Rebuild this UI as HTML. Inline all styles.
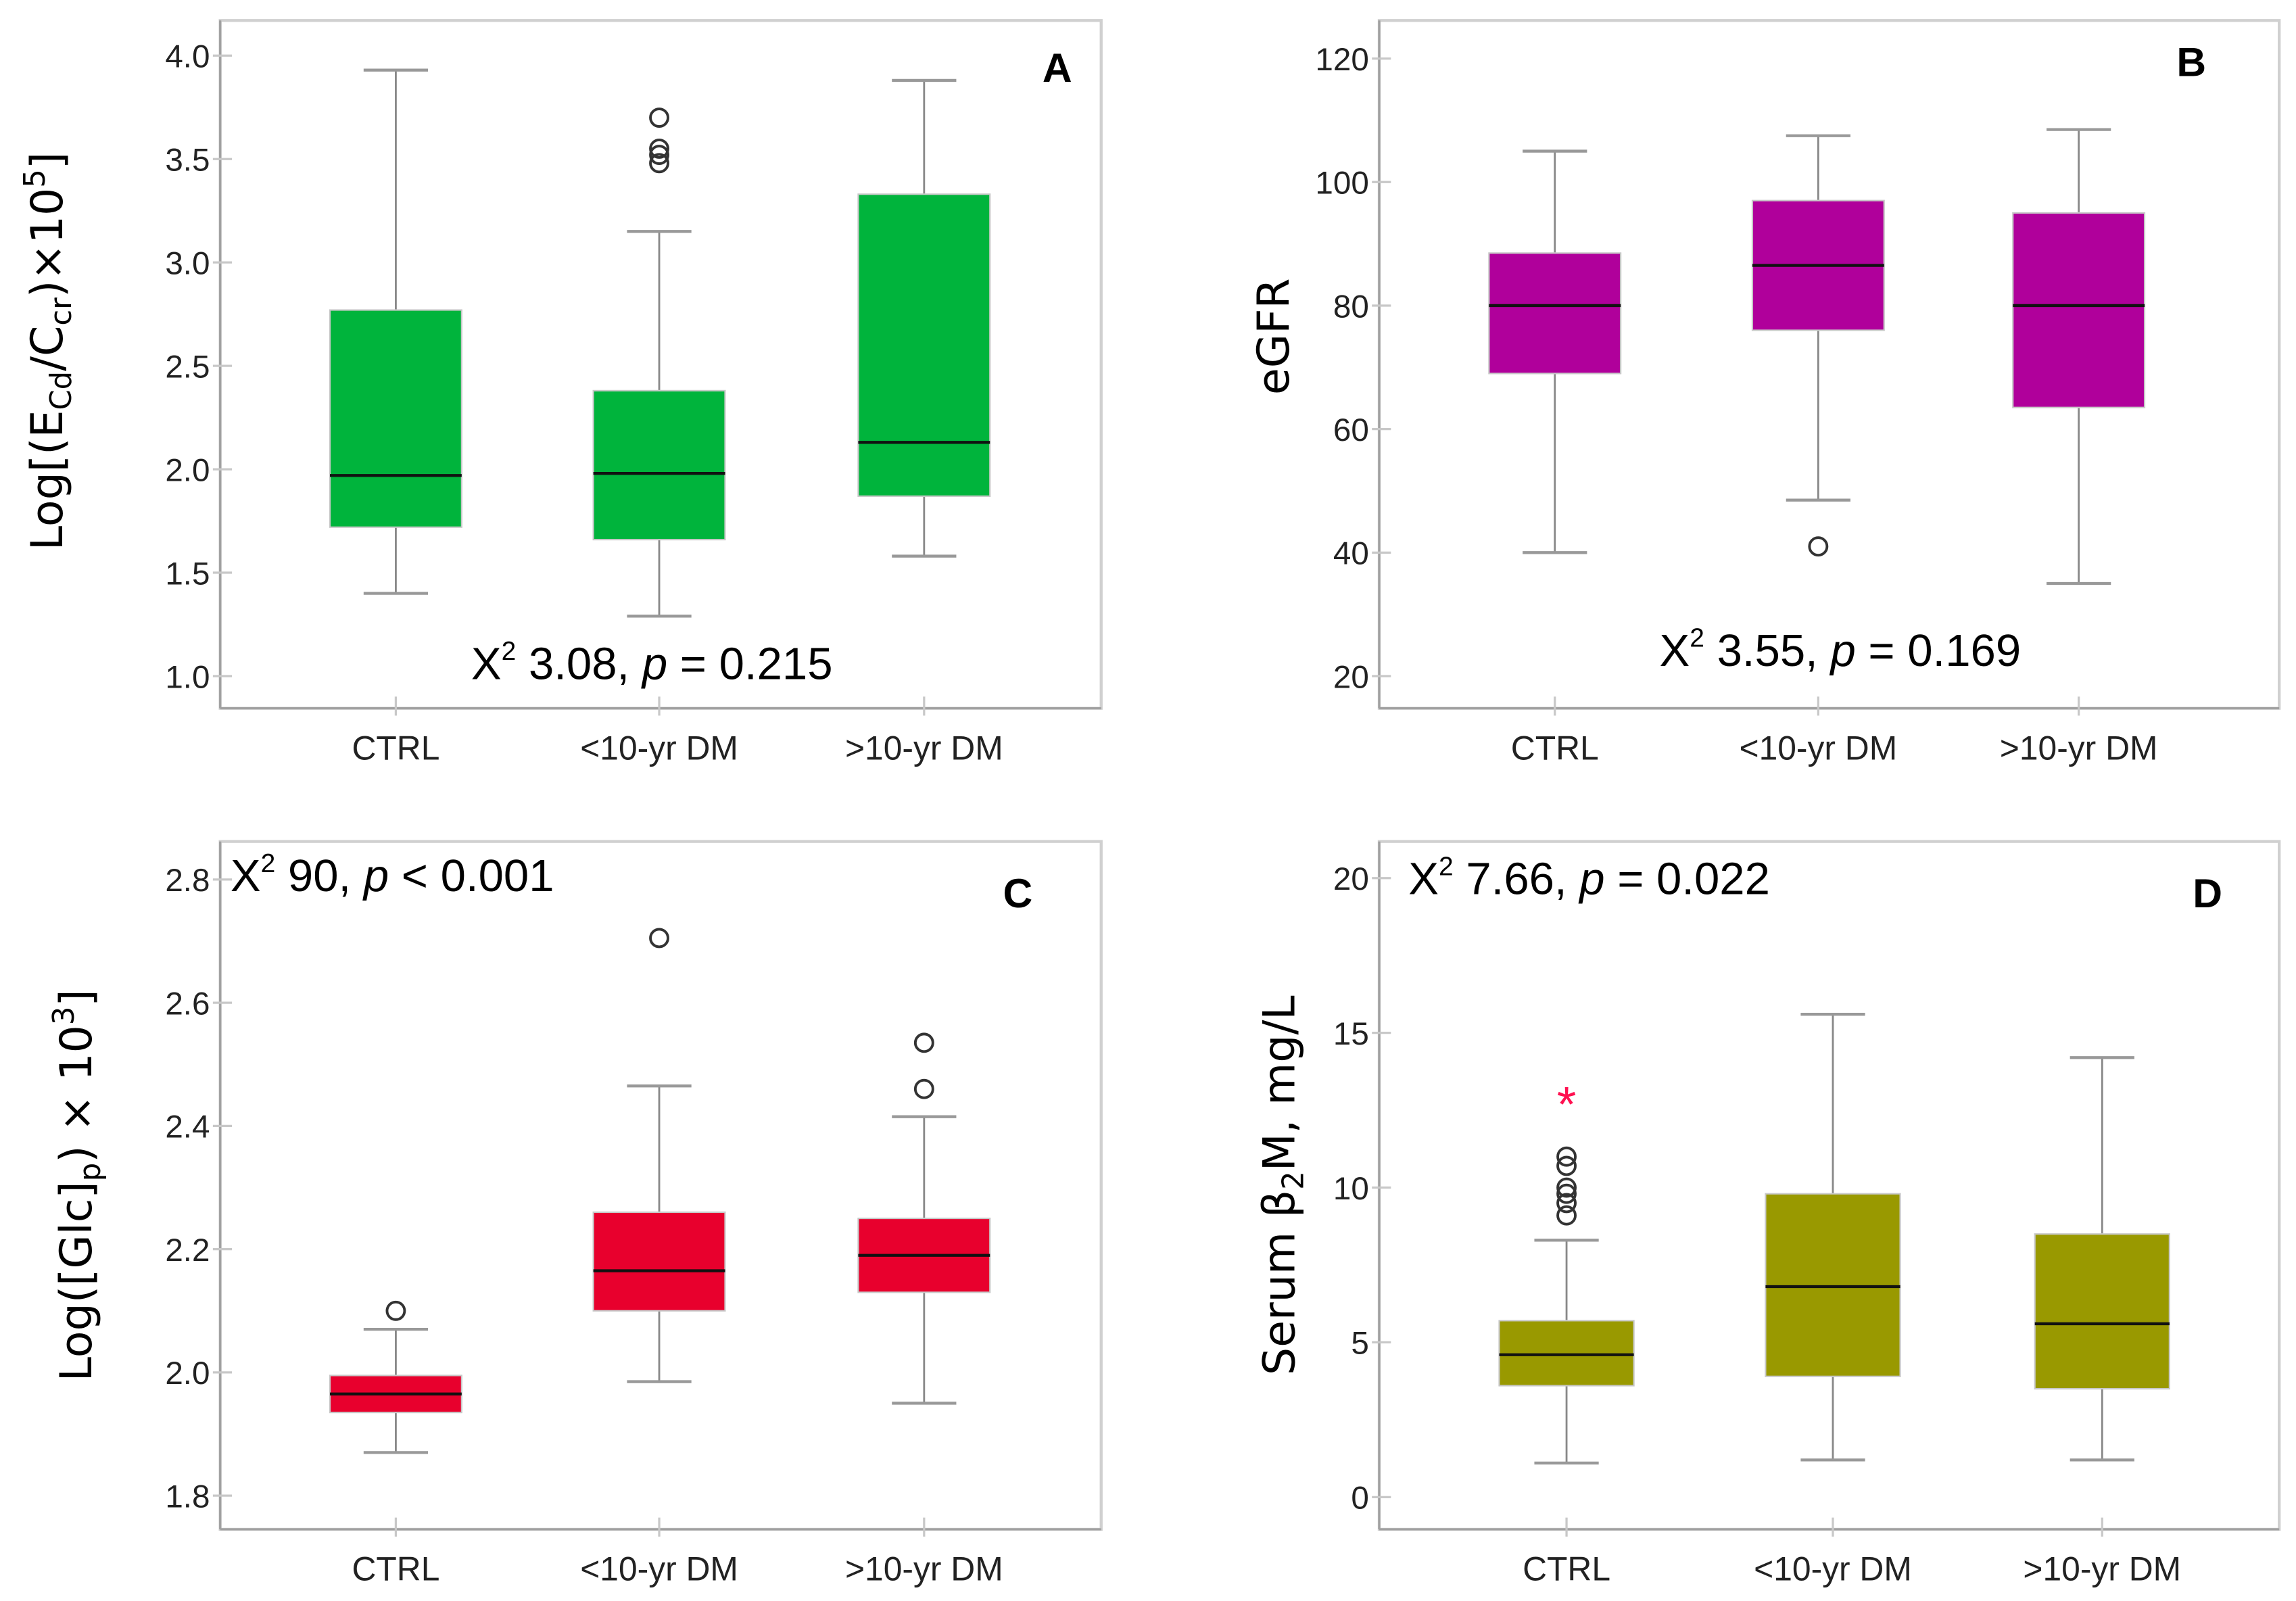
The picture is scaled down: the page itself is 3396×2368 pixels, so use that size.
<!DOCTYPE html>
<html><head><meta charset="utf-8"><style>
html,body{margin:0;padding:0;background:#fff}
svg{display:block;font-family:"Liberation Sans",sans-serif}
.nar{font-family:"Liberation Sans Narrow","Liberation Sans",sans-serif}
</style></head><body>
<svg id="fig" width="3396" height="2368" viewBox="0 0 1568 1094" xmlns="http://www.w3.org/2000/svg"></svg>
<script>
const categories = ["CTRL", "<10-yr DM", ">10-yr DM"];
// Panel A
const aLow = [1.40, 1.29, 1.58];
const aQ1 = [1.72, 1.66, 1.87];
const aMed = [1.97, 1.98, 2.13];
const aQ3 = [2.77, 2.38, 3.33];
const aHigh = [3.93, 3.15, 3.88];
const aOut = [[], [3.70, 3.55, 3.52, 3.48], []];
const aTicks = ["1.0", "1.5", "2.0", "2.5", "3.0", "3.5", "4.0"];
// Panel B
const bLow = [40, 48.5, 35];
const bQ1 = [69, 76, 63.5];
const bMed = [80, 86.5, 80];
const bQ3 = [88.5, 97, 95];
const bHigh = [105, 107.5, 108.5];
const bOut = [[], [41], []];
const bTicks = ["20", "40", "60", "80", "100", "120"];
// Panel C
const cLow = [1.87, 1.985, 1.95];
const cQ1 = [1.935, 2.10, 2.13];
const cMed = [1.965, 2.165, 2.19];
const cQ3 = [1.995, 2.26, 2.25];
const cHigh = [2.07, 2.465, 2.415];
const cOut = [[2.10], [2.705], [2.46, 2.535]];
const cTicks = ["1.8", "2.0", "2.2", "2.4", "2.6", "2.8"];
// Panel D
const dLow = [1.1, 1.2, 1.2];
const dQ1 = [3.6, 3.9, 3.5];
const dMed = [4.6, 6.8, 5.6];
const dQ3 = [5.7, 9.8, 8.5];
const dHigh = [8.3, 15.6, 14.2];
const dOut = [[9.1, 9.5, 9.8, 10.0, 10.7, 11.0], [], []];
const dExtreme = [[12.9], [], []];
const dTicks = ["0", "5", "10", "15", "20"];

const NS = "http://www.w3.org/2000/svg";
const svg = document.getElementById("fig");
function mk(tag, attrs, parent) {
  const e = document.createElementNS(NS, tag);
  for (const k in attrs) e.setAttribute(k, attrs[k]);
  (parent || svg).appendChild(e);
  return e;
}

function panel(cfg) {
  const g = mk("g", {});
  
  
  const yScale = v => cfg.yA + (v - cfg.vA) * (cfg.yB - cfg.yA) / (cfg.vB - cfg.vA);
  const xScale = i => cfg.cx[i];
  const fr = mk("rect", {x: cfg.x0, y: cfg.y0, width: cfg.x1 - cfg.x0, height: cfg.y1 - cfg.y0, fill: "none", stroke: "#d0d0d0", "stroke-width": 2}, g);
  
  
  mk("line", {x1: cfg.x0, y1: cfg.y0, x2: cfg.x0, y2: cfg.y1, stroke: "#a0a0a0", "stroke-width": 1.5}, g);
  mk("line", {x1: cfg.x0, y1: cfg.y1, x2: cfg.x1, y2: cfg.y1, stroke: "#a0a0a0", "stroke-width": 1.5}, g);
  cfg.ticks.forEach(t => {
    const y = yScale(parseFloat(t));
    mk("line", {x1: cfg.x0 - 5, y1: y, x2: cfg.x0 + 8, y2: y, stroke: "#c8c8c8", "stroke-width": 1.5}, g);
    const tx = mk("text", {x: cfg.x0 - 7, y: y + 8, "text-anchor": "end", "font-size": 22, fill: "#222", class: "nar"}, g);
    tx.textContent = t;
    
    
  });
  categories.forEach((c, i) => {
    const x = xScale(i);
    mk("line", {x1: x, y1: cfg.y1 - 8, x2: x, y2: cfg.y1 + 5, stroke: "#c8c8c8", "stroke-width": 1.5}, g);
    const tx = mk("text", {x: x, y: cfg.y1 + 35, "text-anchor": "middle", "font-size": 23, fill: "#222", class: "nar"}, g);
    tx.textContent = c;
    
    
  });
  const hw = cfg.bw / 2, cw = 22;
  categories.forEach((c, i) => {
    const x = xScale(i);
    const bg = mk("g", {}, g);
    
    
    mk("line", {x1: x, y1: yScale(cfg.low[i]), x2: x, y2: yScale(cfg.q1[i]), stroke: "#888", "stroke-width": 1.3}, bg);
    mk("line", {x1: x, y1: yScale(cfg.q3[i]), x2: x, y2: yScale(cfg.high[i]), stroke: "#888", "stroke-width": 1.3}, bg);
    mk("line", {x1: x - cw, y1: yScale(cfg.low[i]), x2: x + cw, y2: yScale(cfg.low[i]), stroke: "#999", "stroke-width": 2}, bg);
    mk("line", {x1: x - cw, y1: yScale(cfg.high[i]), x2: x + cw, y2: yScale(cfg.high[i]), stroke: "#999", "stroke-width": 2}, bg);
    mk("rect", {x: x - hw, y: yScale(cfg.q3[i]), width: cfg.bw, height: yScale(cfg.q1[i]) - yScale(cfg.q3[i]), fill: cfg.color, stroke: "#c8c8c8", "stroke-width": 1}, bg);
    mk("line", {x1: x - hw, y1: yScale(cfg.med[i]), x2: x + hw, y2: yScale(cfg.med[i]), stroke: "#111", "stroke-width": 2}, bg);
    cfg.out[i].forEach(v => {
      const o = mk("circle", {cx: x, cy: yScale(v), r: 6, fill: "none", stroke: "#333", "stroke-width": 1.8}, bg);
      
      
    });
    (cfg.ext ? cfg.ext[i] : []).forEach(v => {
      const s = mk("text", {x: x, y: yScale(v) + 16, "text-anchor": "middle", "font-size": 34, fill: "#ff1050"}, bg);
      s.textContent = "*";
      
      
    });
  });
  const L = mk("text", {x: cfg.letter[1], y: cfg.letter[2], "text-anchor": "middle", "font-size": 28, "font-weight": "bold", fill: "#000"}, g);
  L.textContent = cfg.letter[0];
  
  
  const S = mk("text", {x: cfg.stat[0], y: cfg.stat[1], "text-anchor": cfg.stat[2], "font-size": 31, fill: "#000", class: "nar"}, g);
  S.innerHTML = 'X<tspan font-size="18" dy="-13">2</tspan><tspan dy="13"> ' + cfg.stat[3] + ', </tspan><tspan font-style="italic">p</tspan> ' + cfg.stat[4];
  
  
  const T = mk("text", {x: 0, y: 0, "text-anchor": "middle", "font-size": 30, fill: "#000", "font-family": "DejaVu Sans, sans-serif", transform: "translate(" + cfg.ytitle[0] + "," + cfg.ytitle[1] + ") rotate(-90)"}, g);
  T.innerHTML = cfg.ytitle[2];
  
  
}

panel({name: "panel-a", x0: 150, x1: 752, y0: 14, y1: 484, yA: 462, vA: 1.0, yB: 38, vB: 4.0,
  cx: [270, 450, 631], bw: 90, color: "#00b43c", ticks: aTicks,
  low: aLow, q1: aQ1, med: aMed, q3: aQ3, high: aHigh, out: aOut,
  letter: ["A", 722, 56], stat: [445, 464, "middle", "3.08", "= 0.215"],
  ytitle: [42, 240, 'Log[(E<tspan font-size="20" dy="6">Cd</tspan><tspan dy="-6">/C</tspan><tspan font-size="20" dy="6">cr</tspan><tspan dy="-6">)×10</tspan><tspan font-size="20" dy="-12">5</tspan><tspan dy="12">]</tspan>']});
panel({name: "panel-b", x0: 942, x1: 1557, y0: 14, y1: 484, yA: 462, vA: 20, yB: 40, vB: 120,
  cx: [1062, 1242, 1420], bw: 90, color: "#b0009b", ticks: bTicks,
  low: bLow, q1: bQ1, med: bMed, q3: bQ3, high: bHigh, out: bOut,
  letter: ["B", 1497, 52], stat: [1257, 455, "middle", "3.55", "= 0.169"],
  ytitle: [880, 230, 'eGFR']});
panel({name: "panel-c", x0: 150, x1: 752, y0: 575, y1: 1045, yA: 1022, vA: 1.8, yB: 601, vB: 2.8,
  cx: [270, 450, 631], bw: 90, color: "#e8002d", ticks: cTicks,
  low: cLow, q1: cQ1, med: cMed, q3: cQ3, high: cHigh, out: cOut,
  letter: ["C", 695, 620], stat: [157, 609, "start", "90", "&lt; 0.001"],
  ytitle: [62, 810, 'Log([Glc]<tspan font-size="20" dy="6">p</tspan><tspan dy="-6">) × 10</tspan><tspan font-size="20" dy="-12">3</tspan><tspan dy="12">]</tspan>']});
panel({name: "panel-d", x0: 942, x1: 1557, y0: 575, y1: 1045, yA: 1023, vA: 0, yB: 600, vB: 20,
  cx: [1070, 1252, 1436], bw: 92, color: "#999900", ticks: dTicks,
  low: dLow, q1: dQ1, med: dMed, q3: dQ3, high: dHigh, out: dOut, ext: dExtreme,
  letter: ["D", 1508, 620], stat: [962, 611, "start", "7.66", "= 0.022"],
  ytitle: [884, 810, 'Serum β<tspan font-size="20" dy="6">2</tspan><tspan dy="-6">M, mg/L</tspan>']});
</script>
</body></html>
